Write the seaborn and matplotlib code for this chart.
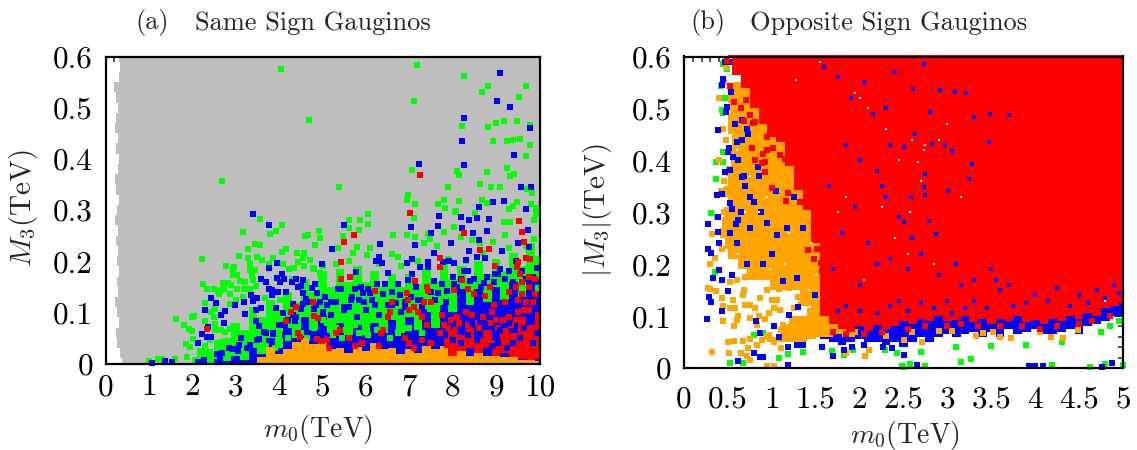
import matplotlib
matplotlib.use("Agg")
import matplotlib.pyplot as plt
import seaborn as sns

GREY, GREEN, BLUE, RED, ORANGE = "#bebebe", "#00ff00", "#0000ff", "#ff0000", "#ffa500"

# ---------- panel (a): envelopes of the dense swarms ----------
a_grey_y = [0,.02,.04,.06,.08,.10,.12,.14,.16,.18,.20,.22,.24,.26,.28,.30,.32,.34,.36,.38,.40,.42,.44,.46,.48,.50,.52,.54,.56,.58,.60]
a_grey_left = [.37,.34,.27,.25,.30,.27,.22,.28,.27,.30,.26,.29,.24,.28,.22,.27,.30,.25,.22,.29,.30,.25,.29,.22,.25,.28,.24,.20,.30,.33,.30]
a_x = [2.0,2.2,2.4,2.6,2.8,3.0,3.2,3.4,3.6,3.8,4.0,4.2,4.4,4.6,4.8,5.0,5.2,5.4,5.6,5.8,6.0,6.2,6.4,6.6,6.8,7.0,7.2,7.4,7.6,7.8,8.0,8.2,8.4,8.6,8.8,9.0,9.2,9.4,9.6,9.8,10.0]
a_green_top = [.012,.03,.02,.045,.05,.08,.065,.11,.09,.125,.105,.14,.12,.165,.14,.18,.15,.185,.16,.19,.16,.18,.15,.175,.15,.175,.155,.185,.16,.195,.165,.19,.165,.20,.175,.205,.18,.215,.19,.235,.21]
a_blue_top = [0,0,0,.008,.004,.015,.006,.03,.018,.05,.03,.07,.05,.09,.065,.095,.06,.08,.055,.075,.055,.08,.06,.085,.06,.09,.065,.10,.07,.115,.10,.145,.115,.145,.12,.15,.125,.16,.13,.165,.14]
a_orange_top = [0,0,0,0,0,0,0,0,.012,.032,.018,.028,.042,.05,.038,.04,.028,.03,.02,.033,.025,.04,.028,.03,.018,.028,.02,.035,.028,.035,.024,.03,.015,.028,.015,.022,.012,.014,.006,.008,.004]
a_red_x = [7.8,8.0,8.2,8.4,8.6,8.8,9.0,9.2,9.4,9.6,9.8,10.0]
a_red_low = [.03,.015,.025,.03,.02,.03,.015,.02,.012,.008,.006,.008]
a_red_high = [.05,.065,.055,.07,.05,.065,.045,.07,.06,.09,.075,.10]

# ---------- panel (a): individual points ----------
a_green_x = [4.04,4.70,2.69,7.17,8.27,8.81,8.68,9.68,9.52,7.10,8.21,8.81,8.99,9.18,9.48,9.78,8.92,9.24,9.39,9.55,9.77,9.68,9.26,9.41,9.33,8.80,8.09,8.14,7.07,5.39,7.90,8.63,8.89,9.09,9.82,9.72,6.96,6.94,7.12,7.67,7.81,7.82,8.15,8.68,9.38,9.48,9.80,9.91,8.80,9.29,8.07,
3.57,4.07,3.16,3.92,3.79,4.60,4.66,4.93,4.94,4.82,3.45,3.56,3.29,3.08,2.22,4.17,4.06,4.42,4.57,3.28,3.48,3.60,3.86,4.56,4.71,4.43,2.78,3.33,3.76,4.58,4.10,2.96,2.93,3.33,3.44,4.22,4.34,4.79,2.94,3.04,3.38,4.94,3.11,3.22,3.40,2.24,2.33,2.70,2.82,2.90,3.03,3.47,2.49,2.59,2.66,2.74,2.62,3.18,3.33,2.86,3.67,2.30,2.86,3.00,3.17,4.02,2.52,2.44,2.05,1.99,1.63,2.29,2.49,1.81,1.92,1.99,2.52,2.52,2.94,2.86,2.75,2.65,2.01,1.86,1.94,2.29,2.40,2.67,2.29,2.40,1.00,1.21,1.31,1.59,1.88,
6.05,5.60,5.87,6.04,5.62,5.85,5.47,6.63,6.94,7.14,7.10,7.44,7.48,7.33,7.64,7.79,8.02,8.06,8.52,9.18,9.33,9.21,9.87,9.87,9.93,8.45,8.64,8.94,8.18,5.36,5.79,6.10,5.71,6.02,6.60,6.75,4.3,4.8,5.0,5.3,5.6,6.3,6.8,7.2,7.9,8.3,8.7,9.3,9.7]
a_green_y = [.576,.475,.357,.584,.561,.542,.531,.542,.520,.513,.464,.463,.470,.474,.474,.467,.435,.435,.436,.439,.427,.405,.383,.371,.367,.375,.376,.368,.379,.344,.344,.351,.344,.345,.334,.342,.330,.319,.311,.312,.320,.304,.317,.320,.308,.316,.311,.304,.313,.302,.298,
.283,.270,.257,.259,.253,.250,.252,.259,.246,.232,.234,.231,.223,.210,.205,.224,.217,.215,.216,.207,.209,.203,.206,.207,.203,.199,.190,.194,.195,.191,.194,.188,.183,.183,.183,.185,.187,.186,.173,.173,.173,.176,.161,.159,.163,.155,.146,.158,.157,.153,.146,.152,.145,.142,.143,.145,.135,.145,.145,.135,.128,.118,.117,.125,.130,.125,.106,.101,.093,.090,.086,.083,.090,.075,.068,.064,.077,.066,.074,.068,.061,.066,.047,.038,.032,.035,.045,.042,.020,.023,.005,.009,.008,.008,.013,
.293,.281,.280,.272,.265,.261,.249,.251,.251,.248,.285,.254,.244,.235,.230,.257,.267,.297,.295,.277,.277,.251,.244,.280,.292,.241,.235,.238,.248,.225,.228,.225,.215,.212,.214,.208,.165,.185,.19,.195,.2,.195,.19,.2,.205,.2,.215,.225,.23]
a_green_over_x = [5.1,5.3,5.55,5.25,5.45,5.85,6.05,6.25,6.55,6.75,7.0,7.3,4.2,4.5,3.9,3.55,3.7,4.8,4.65,5.0,5.75,6.4,6.9]
a_green_over_y = [.08,.07,.065,.055,.05,.06,.055,.065,.05,.06,.07,.06,.05,.06,.03,.025,.035,.07,.05,.085,.075,.075,.07]
a_blue_x = [9.10,9.03,9.31,8.27,9.79,8.21,9.42,8.27,7.23,9.57,9.80,8.93,9.18,8.60,9.70,
3.41,3.76,3.95,4.99,3.76,4.07,3.95,4.02,4.12,4.38,4.55,4.29,3.59,3.70,3.76,3.83,3.83,3.97,4.16,4.44,4.50,4.55,4.76,4.82,4.88,3.35,3.50,3.39,3.19,2.44,2.54,2.99,2.29,2.76,2.66,3.22,3.59,3.47,3.94,4.33,4.62,4.56,4.10,4.33,4.51,4.81,5.02,2.74,3.46,3.54,3.66,4.36,4.63,4.13,2.36,2.23,2.33,2.42,2.12,3.13,3.08,3.53,3.33,3.86,4.13,2.93,2.56,2.69,2.63,1.08,1.38,1.53,2.14,2.27,
5.50,5.23,6.33,7.04,7.13,7.67,7.68,8.18,8.37,8.57,8.83,8.21,8.47,8.79,7.50,8.60,7.97,8.38,9.14,9.73,9.51,9.75,8.60,8.93,9.68,7.56,7.07,6.31,6.24,6.37,6.94,7.78,7.91,8.02,8.31,8.56,8.75,9.45,4.98,7.44,7.25,5.77,6.52,7.06,7.44,8.25,8.98,9.10,9.95,6.44,6.97,5.88,5.42,7.56,8.04,8.41,8.71,6.10,5.94,6.39,5.69,5.84,6.70,6.79,7.67,7.87,5.1,5.3,5.6,6.0,6.2,6.6,6.9,7.2,5.2,5.5,5.8,6.3,6.8,7.3,
5.05,5.2,5.35,5.5,5.65,5.75,5.95,6.05,6.15,6.25,6.5,6.6,6.75,6.9,7.05,7.15,7.25,7.35,7.5,7.6,7.75,7.85,8.0,8.1,8.2,8.35,8.5,8.65,8.8,8.95,9.05,9.2,9.3,9.4,9.6,9.7,9.85,9.95,4.95,4.85,4.7,4.4,4.2,4.0,3.85,3.7,3.5,3.25,3.05,2.85]
a_blue_y = [.568,.514,.501,.480,.460,.435,.407,.388,.390,.344,.344,.315,.318,.306,.302,
.292,.270,.197,.194,.186,.174,.167,.159,.166,.166,.164,.160,.165,.159,.146,.143,.133,.139,.139,.149,.152,.138,.148,.155,.137,.133,.128,.123,.121,.128,.118,.114,.104,.102,.095,.097,.109,.105,.109,.117,.126,.116,.098,.094,.106,.106,.101,.080,.084,.073,.062,.084,.078,.075,.072,.058,.052,.052,.041,.050,.037,.048,.037,.058,.055,.029,.019,.021,.010,.001,.004,.002,.002,.006,
.270,.223,.233,.266,.232,.269,.288,.287,.280,.284,.283,.264,.256,.258,.256,.241,.235,.220,.219,.260,.235,.227,.305,.315,.301,.215,.204,.208,.201,.196,.196,.199,.201,.197,.203,.209,.207,.201,.194,.199,.189,.179,.177,.175,.189,.180,.175,.185,.187,.155,.163,.149,.145,.161,.155,.161,.157,.138,.138,.135,.130,.124,.119,.134,.138,.142,.115,.12,.11,.105,.115,.115,.12,.125,.095,.105,.09,.095,.10,.11,
.13,.12,.145,.11,.125,.145,.12,.145,.125,.155,.115,.14,.155,.11,.13,.15,.125,.10,.14,.125,.155,.12,.17,.15,.165,.18,.165,.15,.17,.16,.175,.165,.18,.16,.18,.165,.17,.16,.12,.115,.12,.09,.085,.075,.06,.06,.045,.03,.025,.03]
a_red_x_pts = [7.24,2.35,4.79,4.39,4.27,4.15,4.81,4.89,4.44,4.49,4.87,4.98,7.02,5.73,5.50,5.42,5.43,5.64,9.52,9.59,9.64,8.27,8.62,8.84,9.69,9.78,9.50,9.48,8.98,7.71,7.70,7.14,8.21,7.41,7.43,6.22,6.94,8.02,8.35,8.50,8.87,8.74,6.98,6.60,7.33,7.50,
8.1,8.3,8.45,8.7,8.9,8.95,9.0,9.3,9.5,9.65,9.7,9.5,9.6,9.85,9.9,9.75,9.6,9.45,9.3,9.2,9.75,9.9,9.55,7.9,7.7,7.5,7.3,7.1,7.0,6.9,7.4,7.2,7.0,7.1,6.4,6.5,6.55,6.35,7.75,7.8,8.05,7.3,5.1,5.3,5.4,5.6,5.75,6.3,5.9,5.15,
8.15,8.35,8.5,8.75,9.05,9.15,9.35,9.45,9.75,7.95,8.6,8.85]
a_red_y_pts = [.369,.067,.120,.110,.101,.084,.093,.088,.060,.051,.048,.044,.295,.252,.238,.198,.165,.170,.279,.257,.237,.255,.222,.224,.207,.205,.198,.189,.190,.207,.188,.162,.163,.149,.142,.141,.137,.143,.145,.135,.149,.131,.125,.121,.120,.120,
.09,.10,.095,.09,.10,.115,.085,.09,.10,.105,.12,.125,.135,.12,.135,.15,.16,.15,.14,.12,.17,.165,.175,.07,.06,.04,.045,.03,.04,.05,.075,.10,.105,.11,.065,.09,.10,.06,.095,.075,.065,.09,.045,.06,.065,.05,.035,.035,.04,.03,
.08,.075,.08,.075,.07,.085,.075,.085,.105,.085,.07,.08]
a_blue_over_x = [8.2,8.55,8.75,9.05,9.1,9.25,9.55,9.65,9.95,8.35,8.0,9.85,9.4,8.9,8.45,9.3]
a_blue_over_y = [.04,.045,.075,.04,.065,.03,.05,.07,.06,.055,.045,.04,.04,.035,.08,.08]

# ---------- panel (b): envelopes ----------
b_x = [.5,.6,.7,.8,.9,1.0,1.1,1.2,1.3,1.4,1.5,1.6,1.7,1.8,1.9,2.0,2.1,2.2,2.3,2.4,2.5,2.6,2.7,2.8,2.9,3.0,3.1,3.2,3.3,3.4,3.5,3.6,3.7,3.8,3.9,4.0,4.1,4.2,4.3,4.4,4.5,4.6,4.7,4.8,4.9,5.0]
b_red_bottom = [.598,.565,.54,.50,.47,.445,.435,.39,.342,.305,.24,.10,.085,.075,.07,.08,.072,.082,.075,.08,.09,.085,.095,.09,.10,.09,.092,.10,.088,.095,.085,.095,.09,.10,.088,.092,.085,.095,.09,.10,.095,.105,.10,.115,.12,.125]
b_blue_bottom = [.6,.6,.6,.6,.6,.6,.6,.6,.6,.6,.6,.055,.05,.045,.05,.055,.05,.05,.045,.05,.04,.05,.06,.05,.06,.065,.06,.065,.07,.06,.07,.06,.075,.065,.07,.075,.065,.065,.07,.075,.065,.08,.085,.09,.10,.10]
b_orange_rows = [.12,.14,.16,.18,.20,.22,.24,.26,.28,.30,.32,.34,.36,.38,.40,.42,.44,.46,.48,.50,.52,.54,.56]
b_orange_left = [1.3,1.32,.98,.72,.62,.50,.47,.41,.43,.45,.50,.46,.50,.48,.53,.52,.55,.50,.50,.52,.50,.56,.65]
b_strip_x = [.95,1.05,1.15,1.25,1.35,1.45,1.55,1.65,1.75,1.85,1.95]
b_strip_low = [.05,.05,.05,.05,.05,.055,.06,.06,.065,.06,.06]
b_strip_high = [.07,.06,.085,.10,.10,.115,.13,.13,.09,.075,.075]

# ---------- panel (b): individual points ----------
b_green_x = [.525,.677,.305,.354,.799,.905,1.08,1.19,1.36,1.68,1.82,1.92,2.29,2.43,2.49,2.57,1.0,.441,.487,.419,.468,.43,.449,.449,.365,.449,.362,.563,3.16,3.27,2.57,2.75,4.19,4.62,4.79,5.0,2.48,2.7,3.1,3.5,3.9,4.3,4.75,4.85,4.95]
b_green_y = [.010,.010,.299,.185,.063,.068,.019,.027,.031,.033,.025,.035,.035,.028,.002,.006,.185,.586,.575,.544,.521,.496,.491,.417,.396,.396,.364,.376,.012,.017,.008,.003,.006,.002,.008,.006,.004,.03,.04,.042,.045,.05,.07,.08,.09]
b_blue_x = [.468,.525,.449,.430,.536,.981,1.79,.487,.479,.658,.734,.723,.392,.601,.658,.517,.506,.555,.468,.525,.658,.848,.373,.43,.525,.544,.753,2.29,2.35,2.27,2.46,2.22,1.50,1.40,.715,
.27,.384,.403,.278,.305,.403,.335,.43,.29,.308,.43,.267,.506,.825,1.03,.867,1.08,1.2,1.3,1.17,1.06,.593,.392,.62,1.49,1.665,1.285,1.13,.612,1.18,.80,.905,.867,1.19,1.285,1.36,1.57,1.70,1.82,1.91,2.05,2.27,2.37,2.5,3.93,3.999,4.09,4.76,4.88,2.50,2.65,
.60,.65,.55,.70,.80,.90,.75,.85,.95,1.0,1.25,1.35,.62,.72,.58,.88,1.05,.52,.68]
b_blue_y = [.589,.589,.557,.546,.532,.575,.593,.503,.493,.477,.451,.461,.459,.435,.439,.423,.416,.407,.378,.381,.368,.387,.333,.336,.317,.307,.330,.445,.410,.387,.378,.426,.466,.586,.593,
.277,.261,.24,.229,.222,.188,.174,.169,.137,.127,.11,.095,.148,.091,.081,.068,.06,.102,.118,.269,.256,.278,.291,.285,.14,.153,.174,.167,.013,.006,.028,.022,.022,.041,.044,.044,.041,.023,.035,.040,.044,.041,.038,.025,.003,.003,.004,.002,.009,.025,.006,
.24,.30,.18,.35,.32,.20,.27,.37,.28,.22,.33,.27,.40,.20,.47,.30,.34,.26,.37]
b_speck_x = [2.73,2.92,3.09,3.21,2.61,2.80,3.30,3.49,3.70,2.63,2.82,2.97,3.05,2.5,3.28,2.75,2.73,2.75,2.59,2.79,2.51,2.87,3.01,3.25,3.47,
1.6,1.75,1.9,2.05,2.15,2.3,2.4,1.85,2.0,2.2,1.65,1.95,2.3,2.45,2.6,2.35,1.8,2.1,1.7,2.55,2.7,2.9,3.1,3.3,3.5,3.7,2.0,2.2,2.25,2.35,
2.0,2.2,2.35,2.55,2.7,2.85,3.0,3.05,3.2,3.3,3.45,3.6,3.75,3.9,4.0,4.15,4.25,4.4,4.5,4.6,4.7,4.8,4.9,4.95,1.85,1.75,2.45,3.15,3.55]
b_speck_y = [.586,.535,.532,.530,.538,.493,.483,.490,.487,.451,.432,.429,.418,.426,.392,.374,.349,.333,.330,.283,.281,.259,.341,.365,.436,
.58,.56,.52,.55,.49,.50,.57,.43,.40,.38,.35,.31,.33,.29,.25,.21,.26,.24,.19,.19,.22,.18,.20,.17,.19,.16,.16,.20,.35,.43,
.11,.105,.12,.11,.125,.115,.13,.105,.115,.13,.115,.15,.12,.125,.14,.13,.155,.12,.14,.125,.15,.135,.16,.145,.12,.11,.13,.16,.17]
b_orange_x = [.324,.506,.517,.575,.670,.647,.730,.753,.723,.571,.441,.616,.601,.753,.837,.924,.970,.859,1.03,1.09,.582,.525,.449,.563,.430,.278,.297,.362,.316,.297,.354,.696,.753,.810,.669,.685,1.2,1.08,.943,1.0,1.06,.867,1.30,1.40,1.475,1.13,1.11,.943,1.02,.829,.886,1.10,.753,.943,1.02,2.06,2.11,1.84,3.52,3.33,3.73,4.18,4.32,4.49,2.71,2.5,3.05,4.41,4.2,.40,.45,.48,1.55,1.45,
.44,.40,.42,.46,.38,.43,.48,.45,.52,.60,.70,1.35,1.5,1.25,1.75,1.95,2.3,2.6,2.9,3.4,3.6,4.05]
b_orange_y = [.030,.051,.028,.052,.052,.028,.038,.055,.024,.081,.091,.101,.092,.097,.083,.094,.105,.101,.115,.111,.115,.115,.119,.131,.134,.155,.152,.149,.258,.201,.211,.121,.121,.115,.140,.150,.154,.153,.150,.131,.131,.134,.137,.131,.118,.083,.073,.060,.051,.044,.054,.038,.015,.004,.004,.023,.035,.028,.070,.062,.057,.060,.057,.073,.051,.054,.071,.142,.127,.52,.55,.58,.10,.13,
.46,.40,.34,.30,.29,.23,.44,.36,.165,.17,.175,.14,.15,.115,.075,.07,.062,.07,.072,.068,.06,.07]
b_red_x = [.487,.525,.574,.707,.65,.753,.79,.81,.685,.943,.772,.943,1.008,.905,.81,.924,.886,.924,1.0,1.19,1.16,1.32,1.09,1.15,1.35,1.16,1.41,1.51,1.59,1.475,1.56,1.69,1.70,1.635,1.57,1.74,1.615,1.74,
1.7,1.85,2.05,2.25,2.55,2.75,3.0,3.15,3.35,3.6,3.85,4.05,4.25,4.5,4.65,4.85]
b_red_y = [.592,.544,.512,.517,.5,.487,.471,.474,.475,.444,.423,.419,.424,.413,.400,.397,.394,.378,.346,.337,.322,.32,.41,.403,.401,.321,.228,.23,.22,.209,.203,.214,.198,.183,.186,.185,.153,.169,
.07,.065,.065,.07,.075,.08,.08,.085,.08,.08,.08,.075,.08,.085,.09,.10]
b_white_x = [1.28,1.55,1.95,2.0,2.1,2.3,2.45,2.6,2.7,2.75,2.9,3.0,3.15,2.67,2.73,2.57,2.25,2.4,2.55,2.85,2.05,1.75,1.85,4.8,1.45,1.2,.85,.75,.95,.6,.62,.98,1.15,.70,1.5,1.42]
b_white_y = [.555,.59,.53,.52,.50,.46,.40,.44,.36,.43,.44,.47,.33,.397,.419,.30,.31,.25,.22,.20,.17,.30,.33,.13,.24,.26,.30,.37,.33,.42,.22,.19,.20,.30,.18,.15]

COORDS = dict(marker="s", linewidth=0, clip_on=False, legend=False)


def pts(ax, x, y, color, z, s=21):
    n = min(len(x), len(y))
    sns.scatterplot(x=x[:n], y=y[:n], ax=ax, color=color, s=s, zorder=z, **COORDS)


def frame(ax, xlim, xmaj, xmin, xlab, ymaj, ymin, ylab, xpad):
    ax.set_xlim(*xlim)
    ax.set_ylim(0, .6)
    ax.set_xticks(xmaj, xlab)
    ax.set_xticks(xmin, minor=True)
    ax.set_yticks(ymaj, ylab)
    ax.set_yticks(ymin, minor=True)
    ax.set_axisbelow(True)
    ax.tick_params(which="major", direction="in", length=6.5, width=1.2, top=True, right=True, labelsize=22.5, colors="black")
    ax.tick_params(which="minor", direction="in", length=3.5, width=1.1, top=True, right=True)
    ax.tick_params(axis="x", which="major", pad=xpad)
    ax.tick_params(axis="y", which="major", pad=9)
    for sp in ax.spines.values():
        sp.set_linewidth(1.6)
        sp.set_color("black")
        sp.set_zorder(10)
    ax.set_xlabel("")
    ax.set_ylabel("")


sns.set_style("white")
plt.rcParams.update({"font.family": "cmr10", "mathtext.fontset": "cm", "axes.formatter.use_mathtext": True,
                     "axes.unicode_minus": False})
W, H = 1137, 450
fig = plt.figure(figsize=(W / 100, H / 100), dpi=100)


def add(l, r, t, b):
    return fig.add_axes([l / W, 1 - b / H, (r - l) / W, (b - t) / H])


ylab = ["0", "0.1", "0.2", "0.3", "0.4", "0.5", "0.6"]
ymaj = [0, .1, .2, .3, .4, .5, .6]

# panel (a)
ax = add(105.5, 539.5, 56.5, 363.5)
ax.fill_betweenx(a_grey_y, a_grey_left, 10.03, step="mid", color=GREY, lw=0, zorder=1, clip_on=False)
ax.fill_between(a_x, 0, a_green_top, step="mid", color=GREEN, lw=0, zorder=2)
pts(ax, a_green_x, a_green_y, GREEN, 2.1)
ax.fill_between(a_x, 0, a_blue_top, step="mid", color=BLUE, lw=0, zorder=3)
pts(ax, a_blue_x, a_blue_y, BLUE, 3.1)
pts(ax, a_green_over_x, a_green_over_y, GREEN, 3.2)
ax.fill_between(a_x, 0, a_orange_top, step="mid", color=ORANGE, lw=0, zorder=4)
ax.fill_between(a_red_x, a_red_low, a_red_high, step="mid", color=RED, lw=0, zorder=5)
pts(ax, a_red_x_pts, a_red_y_pts, RED, 5.1)
pts(ax, a_blue_over_x, a_blue_over_y, BLUE, 5.2)
frame(ax, (0, 10), list(range(11)), [i * .2 for i in range(51)],
      [str(i) for i in range(11)], ymaj, [i * .02 for i in range(31)], ylab, 7)

# panel (b)
bx = add(684, 1123, 56.5, 368)
pts(bx, b_green_x, b_green_y, GREEN, 1.5)
bx.fill_between(b_x, b_blue_bottom, .602, step="mid", color=BLUE, lw=0, zorder=2)
bx.fill_betweenx(b_orange_rows, b_orange_left, 1.9, step="mid", color=ORANGE, lw=0, zorder=3)
bx.fill_between(b_strip_x, b_strip_low, b_strip_high, step="mid", color=ORANGE, lw=0, zorder=3)
pts(bx, b_orange_x, b_orange_y, ORANGE, 3.1)
pts(bx, b_blue_x, b_blue_y, BLUE, 3.2, s=16)
bx.fill_between(b_x, b_red_bottom, .603, step="mid", color=RED, lw=0, zorder=4, clip_on=False)
pts(bx, b_red_x, b_red_y, RED, 4.1)
pts(bx, b_speck_x, b_speck_y, BLUE, 4.2, s=8)
pts(bx, b_white_x, b_white_y, "white", 4.3, s=4)
frame(bx, (0, 5), [i * .5 for i in range(11)], [i * .1 for i in range(51)],
      ["0", "0.5", "1", "1.5", "2", "2.5", "3", "3.5", "4", "4.5", "5"], ymaj, [i * .02 for i in range(31)], ylab, 13)

# texts
for x, s in [(135, "(a)"), (195, "Same Sign Gauginos"), (690, "(b)"), (750, "Opposite Sign Gauginos")]:
    fig.text(x / W, 1 - 23 / H, s, fontsize=19, va="center", ha="left")
fig.text(318 / W, 1 - 430 / H, r"$m_0$(TeV)", fontsize=20, ha="center", va="center")
fig.text(905 / W, 1 - 435 / H, r"$m_0$(TeV)", fontsize=20, ha="center", va="center")
fig.text(24 / W, 1 - 208 / H, r"$M_3$(TeV)", fontsize=21, rotation=90, ha="center", va="center")
fig.text(598 / W, 1 - 210 / H, r"$|M_3|$(TeV)", fontsize=21, rotation=90, ha="center", va="center")
fig.savefig("out.png", dpi=100)
